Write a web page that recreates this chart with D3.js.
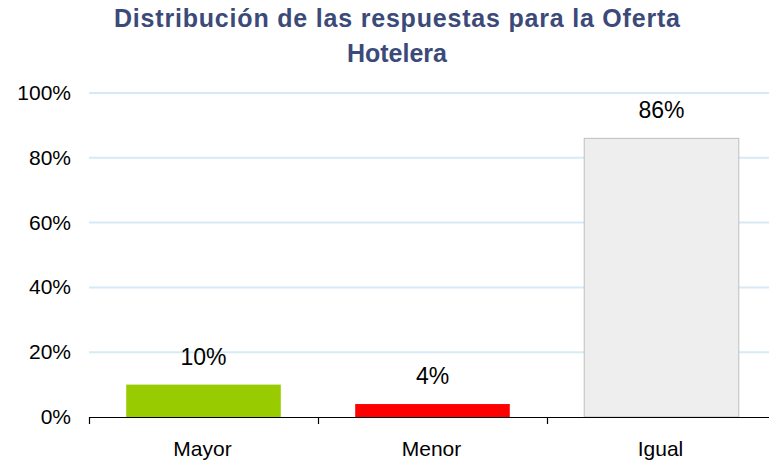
<!DOCTYPE html>
<html><head><meta charset="utf-8">
<script src="https://cdn.jsdelivr.net/npm/d3@7"></script>
<style>body{margin:0;background:#fff}svg{display:block}</style>
</head><body>
<svg id="c" width="769" height="463"></svg>
<script>
const categories = ["Mayor", "Menor", "Igual"];
const values = [0.10, 0.04, 0.86];
const valueLabels = ["10%", "4%", "86%"];
const colors = ["#99cc00", "#ff0000", "#eeeeee"];
const yTicks = [0, 0.2, 0.4, 0.6, 0.8, 1.0];
const titleLines = ["Distribución de las respuestas para la Oferta", "Hotelera"];

(function () {
const svg = d3.select("#c");
const font = "Liberation Sans, Arial, sans-serif";
const pl = 89, pr = 776, pt = 93, pb = 417;

const x = d3.scaleBand().domain(categories).range([pl, pr]).paddingInner(0.325).paddingOuter(0.1625);
const xb = d3.scaleBand().domain(categories).range([pl, pr]);
const y = d3.scaleLinear().domain([0, 1]).range([pb, pt]);

// gridlines
svg.append("g").selectAll("line").data(yTicks.filter(d => d > 0)).join("line")
  .attr("x1", pl).attr("x2", 769).attr("y1", d => y(d)).attr("y2", d => y(d))
  .attr("stroke", "#d6eaf6").attr("stroke-width", 2);

// y labels
svg.append("g").selectAll("text").data(yTicks).join("text")
  .attr("x", 71).attr("y", d => y(d) + 7).attr("text-anchor", "end")
  .attr("font-family", font).attr("font-size", 21).attr("fill", "#000")
  .text(d => d3.format(".0%")(d));

// bars
svg.append("g").selectAll("rect").data(categories).join("rect")
  .attr("x", d => x(d)).attr("width", x.bandwidth())
  .attr("y", (d, i) => y(values[i])).attr("height", (d, i) => y(0) - y(values[i]))
  .attr("fill", (d, i) => colors[i])
  .attr("stroke", (d, i) => i === 2 ? "#bfbfbf" : "none").attr("stroke-width", 1);

// value labels
svg.append("g").selectAll("text").data(categories).join("text")
  .attr("x", d => x(d) + x.bandwidth() / 2).attr("y", (d, i) => y(values[i]) - 20)
  .attr("text-anchor", "middle").attr("font-family", font).attr("font-size", 23).attr("fill", "#000")
  .text((d, i) => valueLabels[i]);

// x axis
const ax = svg.append("g");
ax.append("line").attr("x1", pl).attr("x2", 769).attr("y1", pb + 0.5).attr("y2", pb + 0.5)
  .attr("stroke", "#000").attr("stroke-width", 1.2);
ax.selectAll("line.t").data(categories).join("line").attr("class", "t")
  .attr("x1", d => xb(d) + 0.5).attr("x2", d => xb(d) + 0.5).attr("y1", pb).attr("y2", pb + 7)
  .attr("stroke", "#000").attr("stroke-width", 1.2);
ax.selectAll("text").data(categories).join("text")
  .attr("x", d => xb(d) + xb.bandwidth() / 2 - 1).attr("y", 456)
  .attr("text-anchor", "middle").attr("font-family", font).attr("font-size", 21).attr("fill", "#000")
  .text(d => d);

// title
svg.append("g").selectAll("text").data(titleLines).join("text")
  .attr("x", 397).attr("y", (d, i) => 27 + i * 35).attr("text-anchor", "middle")
  .attr("font-family", font).attr("font-weight", "bold").attr("font-size", 25).attr("fill", "#3b4a79")
  .attr("textLength", (d, i) => i === 0 ? 566 : null)
  .attr("lengthAdjust", "spacing")
  .text(d => d);
})();
</script>
</body></html>
